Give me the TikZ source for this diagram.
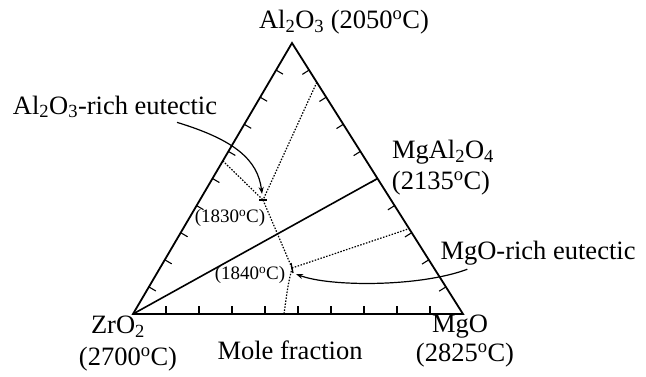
\documentclass[tikz,border=0pt]{standalone}
\usepackage{fontspec}
\setmainfont{Liberation Serif}
\usetikzlibrary{calc,arrows.meta}
\begin{document}
\begin{tikzpicture}[x=1pt,y=-1pt,
  lbl/.style={font=\fontsize{26.5}{28}\selectfont, inner sep=0pt},
  small/.style={font=\fontsize{19}{21}\selectfont, inner sep=0pt},
  side/.style={line width=1.8pt},
  tick/.style={line width=1.1pt},
  dots/.style={line width=1.2pt, dash pattern=on 1.5pt off 1.5pt},
  pointer/.style={line width=1.2pt, -{Stealth[length=7pt,width=5pt]}}]
\useasboundingbox (0,0) rectangle (646,376);
\coordinate (Z) at (133,314);
\coordinate (M) at (463,314);
\coordinate (A) at (292,43);
\coordinate (S) at ($(M)!0.5!(A)$);
\coordinate (E1) at (263,200);
\coordinate (E2) at (292,268);
% triangle
\draw[side, line join=miter] (Z) -- (M) -- (A) -- cycle;
\draw[line width=1.6pt] (Z) -- (S);
% ticks
\foreach \k in {1,...,9}{
  \draw[tick] ($(Z)!\k/10!(M)$) -- ($($(Z)!\k/10!(M)$)!8pt!90:(M)$);
  \draw[tick] ($(Z)!\k/10!(A)$) -- ($($(Z)!\k/10!(A)$)!8pt!-90:(A)$);
  \draw[tick] ($(M)!\k/10!(A)$) -- ($($(M)!\k/10!(A)$)!8pt!90:(A)$);
}
% dotted lines
\coordinate (R1) at ($(M)!0.855!(A)$);
\coordinate (L1) at ($(Z)!0.565!(A)$);
\coordinate (R2) at ($(M)!0.315!(A)$);
\coordinate (B1) at (284,314);
\draw[dots] (R1) -- (E1);
\draw[dots] (L1) -- (E1);
\draw[dots] (E1) -- (E2);
\draw[dots] (E2) -- (R2);
\draw[dots] (E2) .. controls (288,285) .. (B1);
% eutectic marks
\draw[line width=1.3pt] ($(E1)+(-4,0)$) -- ($(E1)+(4,0)$);
\draw[line width=1.3pt] ($(E2)+(-1,-5)$) -- ($(E2)+(1,5)$);
% labels
\node[lbl] (nA) at (344,22) {Al\textsubscript{2}O\textsubscript{3} (2050\textsuperscript{o}C)};
\node[lbl] (nS1) at (443,152) {MgAl\textsubscript{2}O\textsubscript{4}};
\node[lbl] (nS2) at (441,183) {(2135\textsuperscript{o}C)};
\node[lbl] (lab1) at (115,107) {Al\textsubscript{2}O\textsubscript{3}-rich eutectic};
\node[lbl] (lab2) at (538,253) {MgO-rich eutectic};
\node[small] (t1) at (230,218) {(1830\textsuperscript{o}C)};
\node[small] (t2) at (250,275) {(1840\textsuperscript{o}C)};
\node[lbl] (nZ1) at (118,327) {ZrO\textsubscript{2}};
\node[lbl] (nZ2) at (128,359) {(2700\textsuperscript{o}C)};
\node[lbl] (nF) at (290,350) {Mole fraction};
\node[lbl] (nM1) at (460,327) {MgO};
\node[lbl] (nM2) at (465,355) {(2825\textsuperscript{o}C)};
% pointers
\draw[pointer] ([xshift=62pt,yshift=-4pt]lab1.south) .. controls (235,140) and (258,160) .. ($(E1)+(-1,-6)$);
\draw[pointer] ([xshift=27pt,yshift=-4pt]lab2.south west) .. controls (420,287) and (330,287) .. ($(E2)+(4,6)$);
\end{tikzpicture}
\end{document}
